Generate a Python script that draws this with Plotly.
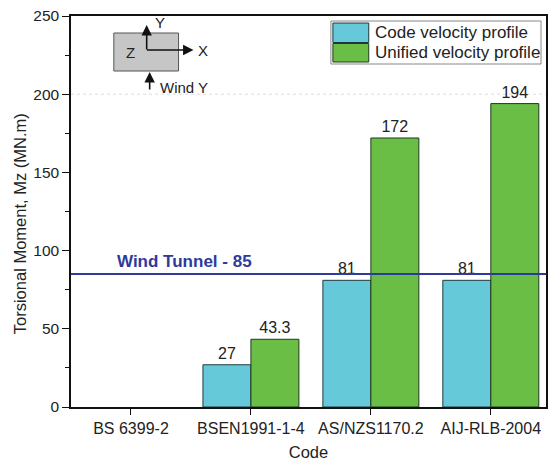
import plotly.graph_objects as go

categories = ["BS 6399-2", "BSEN1991-1-4", "AS/NZS1170.2", "AIJ-RLB-2004"]
series_names = ["Code velocity profile", "Unified velocity profile"]
code_profile = [None, 27, 81, 81]
unified_profile = [None, 43.3, 172, 194]
code_labels = ["", "27", "81", "81"]
unified_labels = ["", "43.3", "172", "194"]
wind_tunnel = 85
wind_label = "Wind Tunnel - 85"
y_ticks = [0, 50, 100, 150, 200, 250]
y_title = "Torsional Moment, Mz (MN.m)"

COL_CODE = "#66c9d9"
COL_UNI = "#6abd45"
FONT = "Liberation Sans, Arial"

W, H = 548, 464
L, R, T, B = 71, 0, 16, 57
pw, ph = W - L - R, H - T - B


def px(x):
    return (x - L) / pw


def py(y):
    return (H - B - y) / ph


fig = go.Figure()
fig.add_trace(go.Bar(
    x=categories, y=code_profile, name=series_names[0],
    marker=dict(color=COL_CODE, line=dict(color="#1f3a3f", width=1)),
    text=code_labels, textposition="outside", cliponaxis=False,
    textfont=dict(size=16, color="#222", family=FONT), showlegend=False,
))
fig.add_trace(go.Bar(
    x=categories, y=unified_profile, name=series_names[1],
    marker=dict(color=COL_UNI, line=dict(color="#1f3a1f", width=1)),
    text=unified_labels, textposition="outside", cliponaxis=False,
    textfont=dict(size=16, color="#222", family=FONT), showlegend=False,
))

shapes = [
    dict(type="line", xref="paper", yref="y", x0=0, x1=1, y0=200, y1=200,
         line=dict(color="#dddddd", width=1, dash="dot"), layer="below"),
    dict(type="line", xref="paper", yref="y", x0=0, x1=1, y0=wind_tunnel, y1=wind_tunnel,
         line=dict(color="#2e3a9c", width=2)),
    # inset rectangle
    dict(type="rect", xref="paper", yref="paper", x0=px(114), x1=px(179), y0=py(71), y1=py(33),
         fillcolor="#c6c6c6", line=dict(color="#555", width=1)),
    # manual legend box
    dict(type="rect", xref="paper", yref="paper", x0=px(332), x1=px(543), y0=py(64), y1=py(21),
         fillcolor="white", line=dict(color="#888", width=1)),
    dict(type="rect", xref="paper", yref="paper", x0=px(334), x1=px(370), y0=py(42.5), y1=py(23),
         fillcolor=COL_CODE, line=dict(color="#1f3a3f", width=1)),
    dict(type="rect", xref="paper", yref="paper", x0=px(334), x1=px(370), y0=py(62), y1=py(43.5),
         fillcolor=COL_UNI, line=dict(color="#1f3a1f", width=1)),
]

annotations = [
    dict(text=y_title, xref="paper", yref="paper", x=px(20), y=py(224), textangle=-90,
         xanchor="center", yanchor="middle",
         showarrow=False, font=dict(size=16.5, color="#222", family=FONT)),
    dict(text="<b>%s</b>" % wind_label, xref="paper", yref="y", x=px(115), y=wind_tunnel,
         xanchor="left", yanchor="bottom", yshift=1, showarrow=False,
         font=dict(size=17, color="#2e3a9c", family=FONT)),
    dict(text=series_names[0], xref="paper", yref="paper", x=px(374), y=py(33),
         xanchor="left", yanchor="middle", showarrow=False,
         font=dict(size=17, color="#222", family=FONT)),
    dict(text=series_names[1], xref="paper", yref="paper", x=px(374), y=py(53),
         xanchor="left", yanchor="middle", showarrow=False,
         font=dict(size=17, color="#222", family=FONT)),
    # Y arrow
    dict(xref="paper", yref="paper", x=px(147), y=py(25), ax=0, ay=26, text="",
         showarrow=True, arrowhead=2, arrowsize=1.3, arrowwidth=1.6, arrowcolor="#111"),
    # X arrow
    dict(xref="paper", yref="paper", x=px(194), y=py(50), ax=-48, ay=0, text="",
         showarrow=True, arrowhead=2, arrowsize=1.3, arrowwidth=1.6, arrowcolor="#111"),
    # wind arrow
    dict(xref="paper", yref="paper", x=px(150), y=py(72), ax=0, ay=19, text="",
         showarrow=True, arrowhead=2, arrowsize=1.3, arrowwidth=1.6, arrowcolor="#111"),
    dict(text="Y", xref="paper", yref="paper", x=px(160), y=py(23), showarrow=False,
         xanchor="center", yanchor="middle",
         font=dict(size=15, color="#222", family=FONT)),
    dict(text="X", xref="paper", yref="paper", x=px(204), y=py(50), showarrow=False,
         xanchor="center", yanchor="middle",
         font=dict(size=15, color="#222", family=FONT)),
    dict(text="Z", xref="paper", yref="paper", x=px(131), y=py(52), showarrow=False,
         xanchor="center", yanchor="middle",
         font=dict(size=15, color="#222", family=FONT)),
    dict(text="Wind Y", xref="paper", yref="paper", x=px(158), y=py(87), xanchor="left",
         yanchor="middle",
         showarrow=False, font=dict(size=15, color="#222", family=FONT)),
]

fig.update_layout(
    width=W, height=H,
    margin=dict(l=L, r=R, t=T, b=B),
    paper_bgcolor="white", plot_bgcolor="white",
    barmode="group", bargap=0.2, bargroupgap=0,
    font=dict(family=FONT, size=16, color="#222"),
    shapes=shapes, annotations=annotations,
    showlegend=False,
    xaxis=dict(
        range=[-0.5, 3.46], showline=True, linecolor="#111", linewidth=1.5, mirror=True,
        ticks="outside", ticklen=6, tickcolor="#111", tickwidth=1.2,
        minor=dict(ticks="outside", ticklen=4, tickcolor="#111", tickwidth=1.2),
        tickson="labels",
        title=dict(text="Code", font=dict(size=16.5), standoff=10),
        tickfont=dict(size=16),
    ),
    yaxis=dict(
        range=[0, 250], tickvals=y_ticks, showline=True, linecolor="#111", linewidth=1.5,
        mirror=True, showgrid=False, zeroline=False,
        ticks="outside", ticklen=7, tickcolor="#111", tickwidth=1.2,
        minor=dict(ticks="outside", ticklen=4, tickcolor="#111", dtick=25, tick0=0),
        tickfont=dict(size=15.5),
    ),
)

fig.write_html("out.html")
